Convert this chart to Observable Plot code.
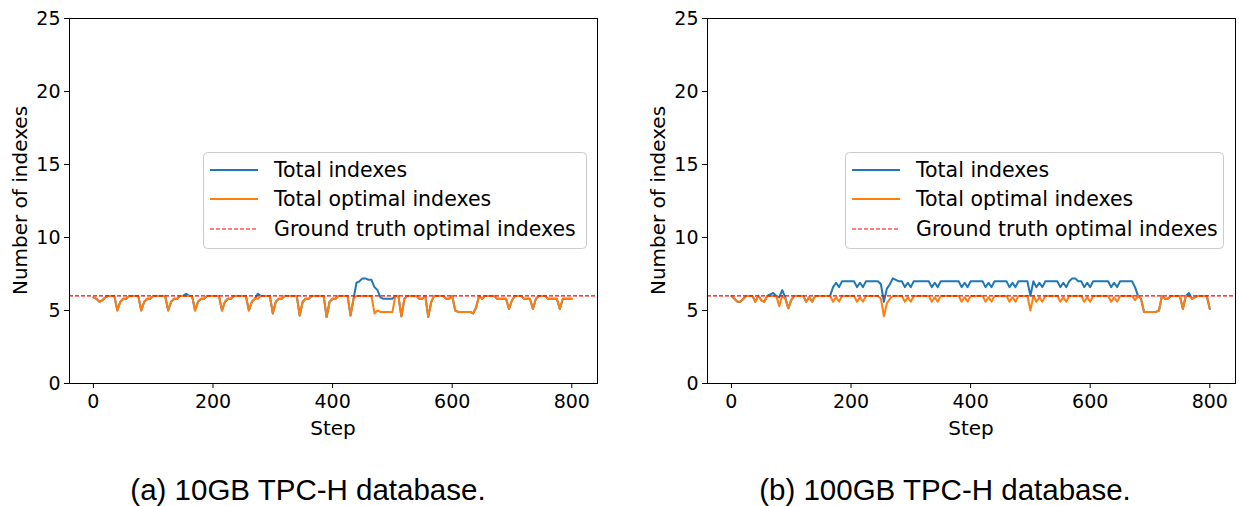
<!DOCTYPE html>
<html><head><meta charset="utf-8">
<script src="https://cdn.jsdelivr.net/npm/d3@7"></script>
<script src="https://cdn.jsdelivr.net/npm/@observablehq/plot@0.6"></script>
<style>
body{margin:0;background:#fff;}
#root{position:relative;width:1239px;height:506px;overflow:hidden;background:#fff;}
.panel{position:absolute;top:0;}
.panel svg{max-width:none !important;}
#overlay{position:absolute;left:0;top:0;pointer-events:none;}
</style>
</head><body><div id="root"></div>
<script>
// sampling grid of training steps (every 5 steps)
const steps = d3.range(0, 805, 5);
const xTicks = [0, 200, 400, 600, 800];
const yTicks = [0, 5, 10, 15, 20, 25];
const groundTruth = 6;
const seriesNames = ["Total indexes", "Total optimal indexes", "Ground truth optimal indexes"];
const captions = ["(a) 10GB TPC-H database.", "(b) 100GB TPC-H database."];

// (a) 10GB
const leftOptimal = [
  5.9,5.8,5.6,5.7,5.9,6,6,6,5.0,5.6,
  5.8,5.8,6,6,6,6,5.0,5.6,5.8,5.8,
  6,6,6,6,6,5.0,5.6,5.8,5.8,6,
  6,6,6,6,5.0,5.6,5.8,5.8,6,6,
  6,6,6,5.0,5.6,5.8,5.8,6,6,6,
  6,6,5.0,5.6,5.8,5.8,6,6,6,6,
  4.8,5.6,5.8,5.8,6,6,6,6,6,4.65,
  5.6,5.8,5.8,6,6,6,6,6,4.55,5.6,
  5.8,5.8,6,6,6,6,4.65,5.8,6,6,
  6,6,6,6,4.8,5.0,4.9,4.9,4.9,4.9,
  4.9,6,6,4.6,5.8,6,6,6,6,5.8,
  5.8,6,4.55,5.6,6,6,6,6,5.8,5.8,
  6,5.0,4.9,4.9,4.9,4.9,4.9,4.8,5.2,6,
  5.8,6,6,6,6,5.8,5.8,5.8,5.8,5.1,
  5.7,6,6,6,5.8,5.8,5.8,5.1,5.8,6,
  6,6,5.8,5.8,5.8,5.8,5.1,5.8,5.8,5.8,
  5.8
];
const leftTotal = [
  5.9,5.8,5.6,5.7,5.9,6,6,6,5.0,5.6,
  5.8,5.8,6,6,6,6,5.0,5.6,5.8,5.8,
  6,6,6,6,6,5.0,5.6,5.8,5.8,6,
  6,6.15,6,6,5.0,5.6,5.8,5.8,6,6,
  6,6,6,5.0,5.6,5.8,5.8,6,6,6,
  6,6,5.0,5.6,5.8,6.15,6,6,6,6,
  4.8,5.6,5.8,5.8,6,6,6,6,6,4.65,
  5.6,5.8,5.8,6,6,6,6,6,4.55,5.6,
  5.8,5.8,6,6,6,6,4.65,5.8,6.9,7.0,
  7.2,7.2,7.1,7.1,6.6,6.4,5.9,5.8,5.8,5.8,
  5.8,6,6,4.6,5.8,6,6,6,6,5.8,
  5.8,6,4.55,5.6,6,6,6,6,5.8,5.8,
  6,5.0,4.9,4.9,4.9,4.9,4.9,4.8,5.2,6,
  5.8,6,6,6,6,5.8,5.8,5.8,5.8,5.1,
  5.7,6,6,6,5.8,5.8,5.8,5.1,5.8,6,
  6,6,5.8,5.8,5.8,5.8,5.1,5.8,5.8,5.8,
  5.8
];

// (b) 100GB
const rightOptimal = [
  6,5.8,5.6,5.6,5.8,6,6,6,5.6,6,
  5.7,5.6,6,6,6,6,5.3,6,5.8,5.15,
  5.7,6,6,6,6,5.6,5.9,5.6,6,6,
  6,6,6,6,5.6,5.9,5.6,6,6,6,
  6,6,5.6,5.9,5.6,6,6,6,6,6,
  5.8,4.6,5.5,5.8,6,6,6,6,5.6,5.9,
  5.6,6,6,6,6,6,6,5.6,5.9,5.6,
  6,6,6,6,6,6,6,5.6,5.9,5.6,
  6,6,6,6,6,5.6,5.9,5.6,6,6,
  6,6,6,5.6,5.9,5.6,6,6,6,6,
  5.0,6,5.6,5.9,5.6,6,6,6,6,6,
  5.6,5.9,5.6,6,6,6,6,6,5.6,5.9,
  5.6,6,6,6,6,6,6,5.6,5.9,5.6,
  6,6,6,6,6,5.7,6,5.8,4.9,4.9,
  4.9,4.9,4.9,5.0,6,5.8,5.8,6,6,6,
  6,5.1,6,6,5.8,5.9,6,6,6,6,
  5.1
];
const rightTotal = [
  6,5.8,5.6,5.6,5.8,6,6,6,5.6,6,
  5.7,5.6,6,6.1,6.2,6.0,5.9,6.4,5.9,5.15,
  5.7,6,6,6,6,5.6,5.9,5.6,6,6,
  6,6,6,6.0,6.6,6.9,6.6,7,7,7,
  7,7,6.6,6.9,6.6,7,7,7,7,7,
  6.8,5.6,6.5,6.8,7.2,7.1,7,7,6.6,6.9,
  6.6,7,7,7,7,7,7,6.6,6.9,6.6,
  7,7,7,7,7,7,7,6.6,6.9,6.6,
  7,7,7,7,7,6.6,6.9,6.6,7,7,
  7,7,7,6.6,6.9,6.6,7,7,7,7,
  6.0,7,6.6,6.9,6.6,7,7,7,7,7,
  6.6,6.9,6.6,7,7.2,7.2,7,7,6.6,6.9,
  6.6,7,7,7,7,7,7,6.6,6.9,6.6,
  7,7,7,7,7,6.6,6.0,5.8,4.9,4.9,
  4.9,4.9,4.9,5.0,6,5.8,5.8,6,6,6,
  6,5.1,6,6.2,5.8,5.9,6,6,6,6,
  5.1
];

const colors = ["#1f77b4", "#ff7f0e", "red"];

function panel(total, optimal, width, marginRight) {
  const data = steps.map((s, i) => ({step: s, total: total[i], optimal: optimal[i]}));
  return Plot.plot({
    width: width, height: 443,
    marginLeft: 69, marginRight: marginRight, marginTop: 18, marginBottom: 60,
    style: {fontFamily: "DejaVu Sans", fontSize: "19px", color: "black", background: "transparent", overflow: "visible"},
    x: {domain: [-40, 843], ticks: xTicks, label: null, tickSize: 5, tickPadding: 6},
    y: {domain: [0, 25], ticks: yTicks, label: null, tickSize: 5, tickPadding: 4},
    marks: [
      Plot.lineY(data, {x: "step", y: "total", stroke: colors[0], strokeWidth: 2}),
      Plot.lineY(data, {x: "step", y: "optimal", stroke: colors[1], strokeWidth: 2}),
      Plot.ruleY([groundTruth], {stroke: colors[2], strokeWidth: 1.2, strokeDasharray: "4,2"}),
      Plot.frame({stroke: "black", strokeWidth: 1})
    ]
  });
}

const root = document.getElementById("root");
[[leftTotal, leftOptimal, 0, 620, 23], [rightTotal, rightOptimal, 638, 601, 4]].forEach(([t, o, left, w, mr]) => {
  const div = document.createElement("div");
  div.className = "panel";
  div.style.left = left + "px";
  div.style.width = w + "px";
  const chart = panel(t, o, w, mr);
  chart.style.maxWidth = "none";
  div.appendChild(chart);
  root.appendChild(div);
});

// overlay: axis labels, legends, captions
const svg = d3.select(root).append("svg").attr("id", "overlay")
  .attr("width", 1239).attr("height", 506);
[0, 638].forEach((off, k) => {
  svg.append("text").attr("transform", `translate(${27 + off},200.5) rotate(-90)`)
    .attr("text-anchor", "middle").attr("font-family", "DejaVu Sans").attr("font-size", 20)
    .text("Number of indexes");
  svg.append("text").attr("x", 333 + off).attr("y", 435)
    .attr("text-anchor", "middle").attr("font-family", "DejaVu Sans").attr("font-size", 20)
    .text("Step");
  const lx = k === 0 ? 203 : 845, lw = k === 0 ? 383 : 378;
  const g = svg.append("g").attr("transform", `translate(${lx},152)`);
  g.append("rect").attr("x", 0.5).attr("y", 0.5).attr("width", lw).attr("height", 96)
    .attr("rx", 4).attr("fill", "white").attr("fill-opacity", 0.8).attr("stroke", "#cccccc");
  seriesNames.forEach((name, i) => {
    const y = [18, 47, 77][i];
    g.append("line").attr("x1", 7).attr("x2", 55).attr("y1", y).attr("y2", y)
      .attr("stroke", colors[i]).attr("stroke-width", i === 2 ? 1.2 : 2)
      .attr("stroke-dasharray", i === 2 ? "4,2" : null);
    g.append("text").attr("x", 71).attr("y", y + 7)
      .attr("font-family", "DejaVu Sans").attr("font-size", 20.5).text(name);
  });
  svg.append("text").attr("x", k === 0 ? 308 : 945).attr("y", 500)
    .attr("text-anchor", "middle").attr("font-family", "Liberation Sans").attr("font-size", 29.5)
    .text(captions[k]);
});
</script>
</body></html>
